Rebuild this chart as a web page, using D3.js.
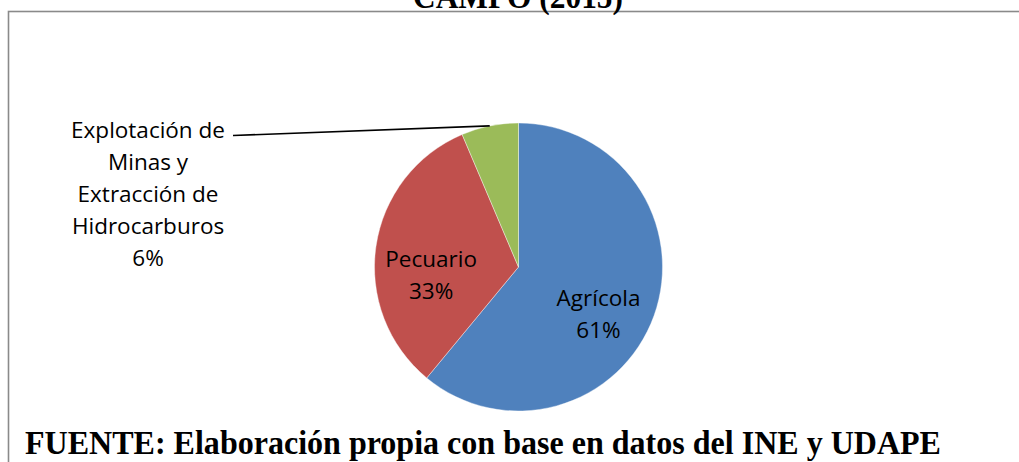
<!DOCTYPE html>
<html>
<head>
<meta charset="utf-8">
<script src="https://cdn.jsdelivr.net/npm/d3@7"></script>
<style>
    body { margin: 0; background: #fff; }
    svg { display: block; }
    .lbl { font-family: "Open Sans", "Noto Sans", sans-serif; font-size: 22.5px; fill: #000; }
    .serif { font-family: "Liberation Serif", "Times New Roman", serif; font-weight: bold; fill: #000; }
</style>
</head>
<body>
<svg id="chart"></svg>
<script>
// data
const categories = ["Agrícola", "Pecuario", "Explotación de Minas y Extracción de Hidrocarburos"];
const values = [61.0, 32.6, 6.4];
const colors = ["#4F81BD", "#C0504D", "#9BBB59"];
// how each label is broken into lines
const labelLines = [["Agrícola"], ["Pecuario"], ["Explotación de", "Minas y", "Extracción de", "Hidrocarburos"]];
const titleText = "CAMPO (2015)";
const sourceText = "FUENTE: Elaboración propia con base en datos del INE y UDAPE";

let width = 1019, height = 462;
let cx = 518.5, cy = 267, radius = 144;
let lineH = 32.5;

let svg = d3.select("#chart")
    .attr("width", width)
    .attr("height", height);

svg.append("rect")
    .attr("width", width).attr("height", height)
    .attr("fill", "#fff");

// chart frame (runs off the right and bottom of the picture)
svg.append("rect")
    .attr("x", 8.5).attr("y", 11.5)
    .attr("width", 1030).attr("height", 480)
    .attr("fill", "none")
    .attr("stroke", "#8a8a8a")
    .attr("stroke-width", 1.6);

// title, cut off at the top
svg.append("text")
    .attr("class", "serif")
    .attr("x", 518).attr("y", 8)
    .attr("text-anchor", "middle")
    .attr("font-size", 34)
    .attr("textLength", 210)
    .attr("lengthAdjust", "spacingAndGlyphs")
    .text(titleText);

let pie = d3.pie().sort(null).value(d => d);
let arcs = pie(values);

let arc = d3.arc().innerRadius(0).outerRadius(radius);
let labelArc = d3.arc().innerRadius(radius * 0.62).outerRadius(radius * 0.62);

let g = svg.append("g")
    .attr("transform", "translate(" + cx + "," + cy + ")");

g.selectAll("path")
    .data(arcs)
    .enter().append("path")
    .attr("d", arc)
    .attr("fill", (d, i) => colors[i])
    .attr("stroke", "#fff")
    .attr("stroke-width", 0.4);

// inside labels: arc centroid nudged the way Excel places them
let nudge = [[-4, 17], [1, 21]];
[0, 1].forEach(function (i) {
    let c = labelArc.centroid(arcs[i]);
    let t = g.append("text")
        .attr("class", "lbl")
        .attr("text-anchor", "middle")
        .attr("transform", "translate(" + (c[0] + nudge[i][0]) + "," + (c[1] + nudge[i][1]) + ")");
    let lines = labelLines[i].concat([Math.round(values[i]) + "%"]);
    lines.forEach(function (s, k) {
        t.append("tspan")
            .attr("x", 0)
            .attr("y", (k - (lines.length - 1) / 2) * lineH + 8)
            .text(s);
    });
});

// outside label with leader line for the small slice
let small = arcs[2];
let edge = d3.arc().innerRadius(radius).outerRadius(radius).centroid(small);
let textX = 148 - cx, firstBase = 137.5 - cy;

g.append("line")
    .attr("x1", edge[0]).attr("y1", edge[1])
    .attr("x2", 233 - cx).attr("y2", 135.5 - cy)
    .attr("stroke", "#000")
    .attr("stroke-width", 1.6);

let outer = g.append("text")
    .attr("class", "lbl")
    .attr("text-anchor", "middle");
labelLines[2].concat([Math.round(values[2]) + "%"]).forEach(function (s, k) {
    outer.append("tspan")
        .attr("x", textX)
        .attr("y", firstBase + k * 32)
        .text(s);
});

// source note
svg.append("text")
    .attr("class", "serif")
    .attr("x", 25).attr("y", 454)
    .attr("font-size", 33)
    .attr("textLength", 916)
    .attr("lengthAdjust", "spacingAndGlyphs")
    .text(sourceText);
</script>
</body>
</html>
